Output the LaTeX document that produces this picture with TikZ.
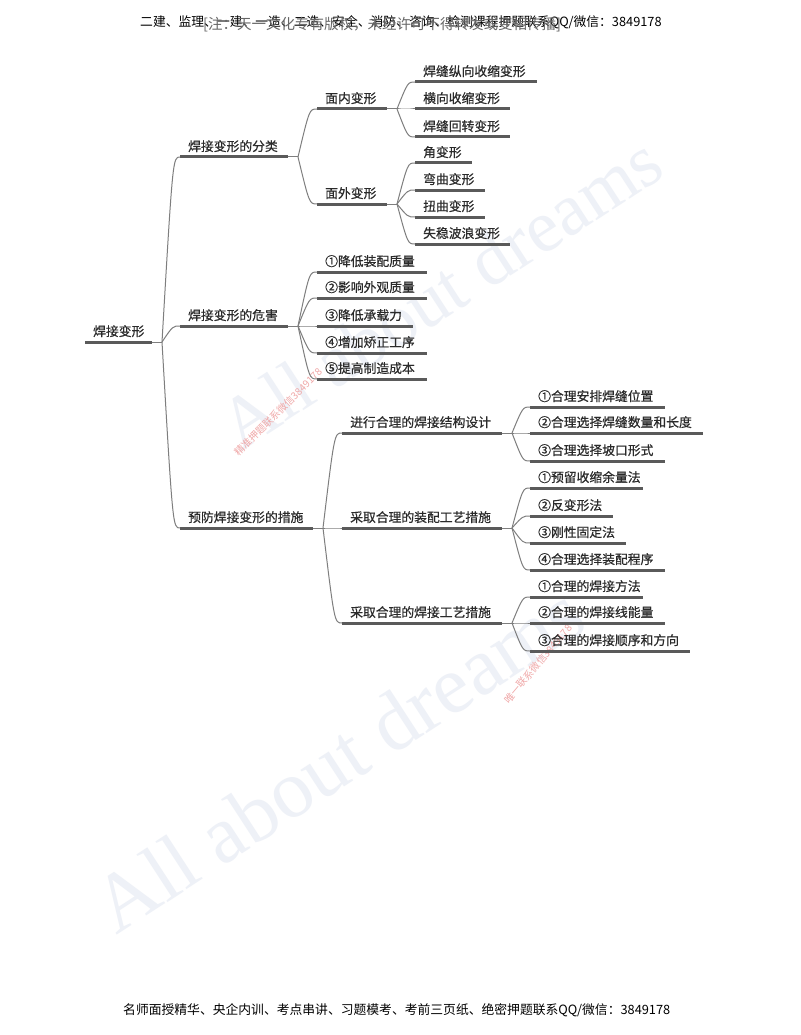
\documentclass[tikz,border=0pt]{standalone}
\usepackage{fontspec}
\usetikzlibrary{calc}
\newfontfamily\cjk{Noto Sans CJK SC}
\newfontfamily\cjkb[FakeBold=0.6]{Noto Sans CJK SC}
\newfontfamily\wmfont{Liberation Serif}
\definecolor{ulc}{HTML}{5A5A5A}
\definecolor{cnc}{HTML}{7E7E7E}
\definecolor{txc}{HTML}{2A2A2A}
\definecolor{wmc}{HTML}{EEF1F7}
\definecolor{wmred}{HTML}{F0A8A8}
\tikzset{
  lbl/.style={font=\cjkb\fontsize{12.8}{14}\selectfont, text=txc, inner sep=0pt, anchor=base west},
  uline/.style={draw=ulc, line width=3pt},
  conn/.style={draw=cnc, line width=1pt},
}
% \topic{name}{x1}{x2}{y}{text}
\newcommand\topic[5]{%
  \coordinate (#1-s) at (#2,#4);
  \coordinate (#1-e) at (#3,#4);
  \coordinate (#1-j) at ({#3+10},#4);
  \node[lbl] (#1) at ({#2+8},{#4-6}) {#5};
  \draw[uline] (#1-s) -- (#1-e);
}
% \link{parent}{child}
\newcommand\link[2]{%
  \draw[conn] let \p1=(#1-j), \p2=(#2-s) in
    (\p1) .. controls ({\x1+0.6*(\x2-\x1)},\y2) .. (\p2);
}
\newcommand\stub[1]{\draw[conn] (#1-e) -- (#1-j);}
\begin{document}
\begin{tikzpicture}[x=1pt,y=-1pt]
\useasboundingbox (0,0) rectangle (800,1035);
\fill[white] (0,0) rectangle (800,1035);

% watermarks
\node[font=\wmfont\fontsize{74}{74}\selectfont, text=wmc, rotate=33] (wm1) at (440,292) {All about dreams};
\node[font=\wmfont\fontsize{82}{82}\selectfont, text=wmc, rotate=33] (wm2) at (338,758) {All about dreams};
\node[font=\cjk\fontsize{10}{11}\selectfont, text=wmred, rotate=45] (wm3) at (278,412) {精准押题联系微信3849178};
\node[font=\cjk\fontsize{10}{11}\selectfont, text=wmred, rotate=50] (wm4) at (538,664) {唯一联系微信3849178};

% header and footer
\node[font=\cjk\fontsize{12.8}{14}\selectfont, text=black, anchor=west, inner sep=0pt] (hdr) at (140,22) {二建、监理、一建、一造、二造、安全、消防、咨询、检测课程押题联系QQ/微信：3849178};
\node[font=\cjk\fontsize{14.5}{16}\selectfont, text=black!60, anchor=west, inner sep=0pt] (hdr2) at (203,25) {[注：天一文化专有版权，未经许可不得转发或变相传播]};
\node[font=\cjk\fontsize{12.8}{14}\selectfont, text=black, anchor=west, inner sep=0pt] (ftr) at (123,1010) {名师面授精华、央企内训、考点串讲、习题模考、考前三页纸、绝密押题联系QQ/微信：3849178};

% topics
\topic{R}{85}{152}{342}{焊接变形}
\topic{A}{180}{288}{157}{焊接变形的分类}
\topic{A1}{317}{387}{109}{面内变形}
\topic{A11}{415}{537}{82}{焊缝纵向收缩变形}
\topic{A12}{415}{510}{109}{横向收缩变形}
\topic{A13}{415}{510}{137}{焊缝回转变形}
\topic{A2}{317}{387}{204}{面外变形}
\topic{A21}{415}{472}{163}{角变形}
\topic{A22}{415}{485}{190}{弯曲变形}
\topic{A23}{415}{485}{217}{扭曲变形}
\topic{A24}{415}{510}{244}{失稳波浪变形}
\topic{B}{180}{288}{326}{焊接变形的危害}
\topic{B1}{317}{427}{272}{①降低装配质量}
\topic{B2}{317}{427}{298}{②影响外观质量}
\topic{B3}{317}{413}{326}{③降低承载力}
\topic{B4}{317}{427}{353}{④增加矫正工序}
\topic{B5}{317}{427}{379}{⑤提高制造成本}
\topic{C}{180}{313}{528}{预防焊接变形的措施}
\topic{C1}{342}{502}{433}{进行合理的焊接结构设计}
\topic{C11}{530}{665}{407}{①合理安排焊缝位置}
\topic{C12}{530}{703}{433}{②合理选择焊缝数量和长度}
\topic{C13}{530}{665}{461}{③合理选择坡口形式}
\topic{C2}{342}{502}{528}{采取合理的装配工艺措施}
\topic{C21}{530}{643}{488}{①预留收缩余量法}
\topic{C22}{530}{613}{516}{②反变形法}
\topic{C23}{530}{626}{543}{③刚性固定法}
\topic{C24}{530}{665}{570}{④合理选择装配程序}
\topic{C3}{342}{502}{623}{采取合理的焊接工艺措施}
\topic{C31}{530}{643}{597}{①合理的焊接方法}
\topic{C32}{530}{665}{623}{②合理的焊接线能量}
\topic{C33}{530}{690}{651}{③合理的焊接顺序和方向}

% connectors
\stub{R} \link{R}{A} \link{R}{B} \link{R}{C}
\stub{A} \link{A}{A1} \link{A}{A2}
\stub{A1} \link{A1}{A11} \link{A1}{A12} \link{A1}{A13}
\stub{A2} \link{A2}{A21} \link{A2}{A22} \link{A2}{A23} \link{A2}{A24}
\stub{B} \link{B}{B1} \link{B}{B2} \link{B}{B3} \link{B}{B4} \link{B}{B5}
\stub{C} \link{C}{C1} \link{C}{C2} \link{C}{C3}
\stub{C1} \link{C1}{C11} \link{C1}{C12} \link{C1}{C13}
\stub{C2} \link{C2}{C21} \link{C2}{C22} \link{C2}{C23} \link{C2}{C24}
\stub{C3} \link{C3}{C31} \link{C3}{C32} \link{C3}{C33}
\end{tikzpicture}
\end{document}
